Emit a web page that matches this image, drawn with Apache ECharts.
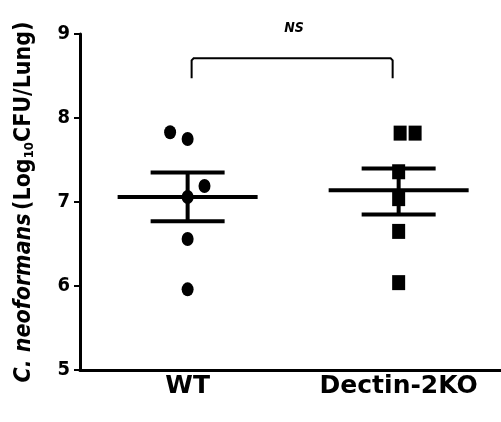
<!DOCTYPE html>
<html>
<head>
<meta charset="utf-8">
<script src="https://cdn.jsdelivr.net/npm/echarts@6/dist/echarts.min.js"></script>
<style>
html,body{margin:0;padding:0;background:#fff;}
#chart{width:501px;height:422px;}
</style>
</head>
<body>
<div id="chart"></div>
<script>
// ---- data ----
var categories = ['WT', 'Dectin-2KO'];
var wtValues = [7.83, 7.75, 7.19, 7.06, 6.56, 5.96];
var wtJitter = [-0.083, 0.0, 0.08, 0.0, 0.0, 0.0];
var koValues = [7.82, 7.82, 7.36, 7.04, 6.65, 6.04];
var koJitter = [0.007, 0.078, 0.0, 0.0, 0.0, 0.0];
var groupMeans = [7.06, 7.14];
var groupUpper = [7.35, 7.40];
var groupLower = [6.77, 6.85];
var yTicks = [5, 6, 7, 8, 9];
var sigLabel = 'NS';
var sigLevel = 8.71;

var FONT = '"DejaVu Sans Condensed", "DejaVu Sans", sans-serif';
var FONT_WIDE = '"DejaVu Sans", sans-serif';

function pts(vals, jit, g) {
  return vals.map(function (v, i) { return [g + jit[i], v]; });
}

var summaryData = groupMeans.map(function (m, i) {
  return [i, m, groupUpper[i], groupLower[i]];
});

var chart = echarts.init(document.getElementById('chart'), null, {renderer: 'canvas'});
chart.setOption({
  animation: false,
  backgroundColor: '#fff',
  grid: {left: 80, right: 0, top: 34, bottom: 52, containLabel: false},
  xAxis: {
    type: 'value',
    min: -0.51, max: 1.485,
    splitLine: {show: false},
    axisLine: {show: true, onZero: false, lineStyle: {color: '#000', width: 3}},
    axisTick: {show: false},
    axisLabel: {
      customValues: [0, 1],
      formatter: function (v) { return categories[Math.round(v)]; },
      color: '#000', fontFamily: FONT_WIDE, fontWeight: 'bold', fontSize: 25, margin: 4
    }
  },
  yAxis: {
    type: 'value',
    min: yTicks[0], max: yTicks[yTicks.length - 1], interval: 1,
    splitLine: {show: false},
    axisLine: {show: true, onZero: false, lineStyle: {color: '#000', width: 3}},
    axisTick: {show: true, inside: false, length: 6, lineStyle: {color: '#000', width: 2}},
    axisLabel: {color: '#000', fontFamily: FONT, fontWeight: 'bold', fontSize: 20, margin: 10},
    name: '{i|C. neoformans} {n|(Log}{s|10}{n|CFU/Lung)}',
    nameLocation: 'middle',
    nameRotate: 90,
    nameGap: 44,
    nameTextStyle: {
      rich: {
        i: {fontFamily: FONT, fontWeight: 'bold', fontStyle: 'italic', fontSize: 23, color: '#000'},
        n: {fontFamily: FONT, fontWeight: 'bold', fontSize: 23, color: '#000'},
        s: {fontFamily: FONT, fontWeight: 'bold', fontSize: 13, color: '#000', verticalAlign: 'bottom', padding: [9, 0, 0, 0]}
      }
    }
  },
  series: [
    {
      type: 'scatter', name: categories[0],
      data: pts(wtValues, wtJitter, 0),
      symbol: 'circle', symbolSize: [12, 14],
      itemStyle: {color: '#000', opacity: 1}, z: 3
    },
    {
      type: 'scatter', name: categories[1],
      data: pts(koValues, koJitter, 1),
      symbol: 'rect', symbolSize: [13, 15],
      itemStyle: {color: '#000', opacity: 1}, z: 3
    },
    {
      type: 'custom', name: 'mean±SEM', clip: false, z: 4,
      data: summaryData,
      renderItem: function (params, api) {
        var g = api.value(0);
        var c = api.coord([g, api.value(1)]);
        var u = api.coord([g, api.value(2)]);
        var l = api.coord([g, api.value(3)]);
        var st = {stroke: '#000', lineWidth: 4};
        return {
          type: 'group',
          children: [
            {type: 'line', shape: {x1: c[0] - 70, y1: c[1], x2: c[0] + 70, y2: c[1]}, style: st},
            {type: 'line', shape: {x1: u[0] - 37, y1: u[1], x2: u[0] + 37, y2: u[1]}, style: st},
            {type: 'line', shape: {x1: l[0] - 37, y1: l[1], x2: l[0] + 37, y2: l[1]}, style: st},
            {type: 'line', shape: {x1: u[0], y1: u[1], x2: l[0], y2: l[1]}, style: st}
          ]
        };
      }
    },
    {
      type: 'custom', name: 'significance', clip: false, z: 5,
      data: [[0, 1, sigLevel]],
      renderItem: function (params, api) {
        var a = api.coord([api.value(0), api.value(2)]);
        var b = api.coord([api.value(1), api.value(2)]);
        var x1 = a[0] + 4, x2 = b[0] - 6, y = a[1];
        return {
          type: 'group',
          children: [
            {type: 'polyline', shape: {points: [[x1, y + 20], [x1, y + 2], [x1 + 2, y], [x2 - 2, y], [x2, y + 2], [x2, y + 20]]},
             style: {stroke: '#000', lineWidth: 2, fill: null}},
            {type: 'text', x: (x1 + x2) / 2 + 2, y: y - 30,
             style: {text: sigLabel, fontFamily: FONT, fontWeight: 'bold', fontStyle: 'italic', fontSize: 14, fill: '#000', align: 'center', verticalAlign: 'middle'}}
          ]
        };
      }
    }
  ]
});
</script>
</body>
</html>
